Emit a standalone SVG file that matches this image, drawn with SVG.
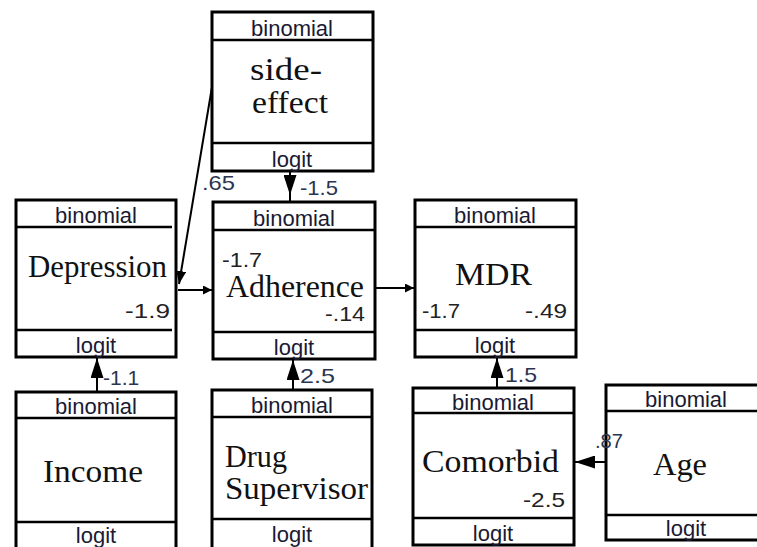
<svg xmlns="http://www.w3.org/2000/svg" width="757" height="547" viewBox="0 0 757 547">
<defs>
<style>
.box{fill:#fff;stroke:#000;stroke-width:3}
.div{stroke:#000;stroke-width:2.5}
.hdr{font-family:"Liberation Sans",Arial,sans-serif;font-size:22px;fill:#1a1a33;text-anchor:middle}
.name{font-family:"Liberation Serif","Times New Roman",serif;font-size:31px;fill:#111}
.num{font-family:"Liberation Sans",Arial,sans-serif;font-size:21px;fill:#222}
.lbl{font-family:"Liberation Sans",Arial,sans-serif;font-size:21px;fill:#2a3550}
.edge{stroke:#000;stroke-width:2;fill:none}
</style>
<marker id="big" markerUnits="userSpaceOnUse" markerWidth="20" markerHeight="13" refX="20" refY="6.5" orient="auto"><path d="M0,0 L20,6.5 L0,13 z" fill="#000"/></marker>
<marker id="mid" markerUnits="userSpaceOnUse" markerWidth="13" markerHeight="10" refX="13" refY="5" orient="auto"><path d="M0,0 L13,5 L0,10 z" fill="#000"/></marker>
<marker id="small" markerUnits="userSpaceOnUse" markerWidth="9" markerHeight="9" refX="9" refY="4.5" orient="auto"><path d="M0,0 L9,4.5 L0,9 z" fill="#000"/></marker>
</defs>
<rect width="757" height="547" fill="#fff"/>

<g id="side-effect">
<rect class="box" x="212" y="12" width="161" height="159"/>
<line class="div" x1="212" y1="40" x2="373" y2="40"/>
<line class="div" x1="212" y1="143" x2="373" y2="143"/>
<text class="hdr" x="292" y="36">binomial</text>
<text class="name" x="250" y="80" textLength="72" lengthAdjust="spacingAndGlyphs">side-</text>
<text class="name" x="252" y="113" textLength="76" lengthAdjust="spacingAndGlyphs">effect</text>
<text class="hdr" x="292" y="167">logit</text>
</g>

<g id="depression">
<rect class="box" x="16" y="200" width="160" height="157"/>
<line class="div" x1="16" y1="227" x2="172" y2="227" stroke-width="3.5"/>
<line class="div" x1="16" y1="330" x2="172" y2="330" stroke-width="3.5"/>
<text class="hdr" x="96" y="223">binomial</text>
<text class="name" x="28" y="277" textLength="139" lengthAdjust="spacingAndGlyphs">Depression</text>
<text class="num" x="125" y="318" textLength="45" lengthAdjust="spacingAndGlyphs">-1.9</text>
<text class="hdr" x="96" y="353">logit</text>
</g>

<g id="adherence">
<rect class="box" x="213" y="202" width="162" height="157"/>
<line class="div" x1="213" y1="230" x2="375" y2="230"/>
<line class="div" x1="213" y1="332" x2="375" y2="332"/>
<text class="hdr" x="294" y="226">binomial</text>
<text class="num" x="222" y="267" textLength="40" lengthAdjust="spacingAndGlyphs">-1.7</text>
<text class="name" x="226" y="297" textLength="138" lengthAdjust="spacingAndGlyphs">Adherence</text>
<text class="num" x="325" y="321" textLength="40" lengthAdjust="spacingAndGlyphs">-.14</text>
<text class="hdr" x="294" y="355">logit</text>
</g>

<g id="mdr">
<rect class="box" x="415" y="200" width="161" height="157"/>
<line class="div" x1="415" y1="227" x2="576" y2="227"/>
<line class="div" x1="415" y1="330" x2="576" y2="330"/>
<text class="hdr" x="495" y="223">binomial</text>
<text class="name" x="455" y="285" textLength="77" lengthAdjust="spacingAndGlyphs">MDR</text>
<text class="num" x="422" y="318" textLength="38" lengthAdjust="spacingAndGlyphs">-1.7</text>
<text class="num" x="525" y="318" textLength="42" lengthAdjust="spacingAndGlyphs">-.49</text>
<text class="hdr" x="495" y="353">logit</text>
</g>

<g id="income">
<rect class="box" x="16" y="392" width="160" height="170"/>
<line class="div" x1="16" y1="418" x2="176" y2="418"/>
<line class="div" x1="16" y1="522" x2="176" y2="522"/>
<text class="hdr" x="96" y="414">binomial</text>
<text class="name" x="43" y="482" textLength="100" lengthAdjust="spacingAndGlyphs">Income</text>
<text class="hdr" x="96" y="543">logit</text>
</g>

<g id="drug-supervisor">
<rect class="box" x="212" y="390" width="160" height="170"/>
<line class="div" x1="212" y1="417" x2="372" y2="417"/>
<line class="div" x1="212" y1="519" x2="372" y2="519"/>
<text class="hdr" x="292" y="413">binomial</text>
<text class="name" x="225" y="467" textLength="62" lengthAdjust="spacingAndGlyphs">Drug</text>
<text class="name" x="225" y="499" textLength="143" lengthAdjust="spacingAndGlyphs">Supervisor</text>
<text class="hdr" x="292" y="542">logit</text>
</g>

<g id="comorbid">
<rect class="box" x="413" y="388" width="161" height="157"/>
<line class="div" x1="413" y1="413" x2="574" y2="413"/>
<line class="div" x1="413" y1="518" x2="574" y2="518"/>
<text class="hdr" x="493" y="410">binomial</text>
<text class="name" x="422" y="472" textLength="137" lengthAdjust="spacingAndGlyphs">Comorbid</text>
<text class="num" x="523" y="507" textLength="42" lengthAdjust="spacingAndGlyphs">-2.5</text>
<text class="hdr" x="493" y="541">logit</text>
</g>

<g id="age">
<rect class="box" x="606" y="385" width="165" height="155"/>
<line class="div" x1="606" y1="411" x2="771" y2="411"/>
<line class="div" x1="606" y1="515" x2="771" y2="515"/>
<text class="hdr" x="686" y="407">binomial</text>
<text class="name" x="653" y="475" textLength="54" lengthAdjust="spacingAndGlyphs">Age</text>
<text class="hdr" x="686" y="536">logit</text>
</g>

<g id="connectors">
<path class="edge" d="M290,171 V202"/>
<path class="edge" d="M290,171 V195" marker-end="url(#big)"/>
<path class="edge" d="M212,87 L179,284" marker-end="url(#mid)"/>
<path class="edge" d="M178,290 H212" marker-end="url(#small)"/>
<path class="edge" d="M375,288 H414" marker-end="url(#small)"/>
<path class="edge" d="M97,392 V358" marker-end="url(#big)"/>
<path class="edge" d="M293,390 V360" marker-end="url(#big)"/>
<path class="edge" d="M497,388 V358" marker-end="url(#big)"/>
<path class="edge" d="M606,462 H575" marker-end="url(#big)"/>
<text class="lbl" x="300" y="195" textLength="38" lengthAdjust="spacingAndGlyphs">-1.5</text>
<text class="lbl" x="202" y="190" textLength="33" lengthAdjust="spacingAndGlyphs">.65</text>
<text class="lbl" x="103" y="385">-1.1</text>
<text class="lbl" x="300" y="383" textLength="35" lengthAdjust="spacingAndGlyphs">2.5</text>
<text class="lbl" x="505" y="382" textLength="32" lengthAdjust="spacingAndGlyphs">1.5</text>
<text class="lbl" x="595" y="448" textLength="28" lengthAdjust="spacingAndGlyphs">.87</text>
</g>
</svg>
